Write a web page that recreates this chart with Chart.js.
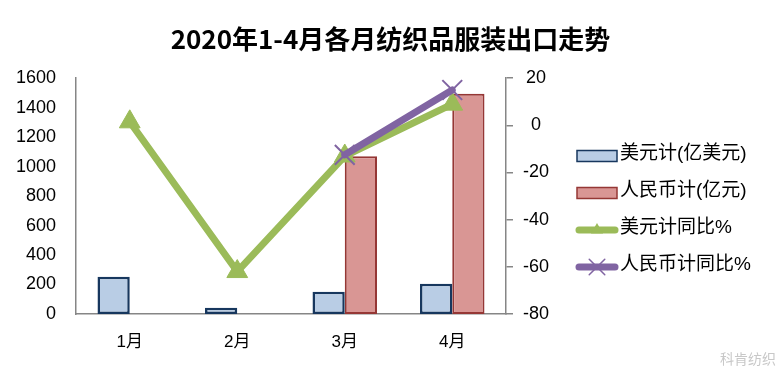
<!DOCTYPE html>
<html><head><meta charset="utf-8">
<script src="https://cdn.jsdelivr.net/npm/chart.js@4.4.1/dist/chart.umd.min.js"></script>
<style>html,body{margin:0;padding:0;background:#fff;}#wrap{width:781px;height:368px;position:relative;}</style>
</head><body><div id="wrap"><canvas id="c" width="781" height="368"></canvas></div>
<script>
const titleText = '2020年1-4月各月纺织品服装出口走势';
const categories = ['1月', '2月', '3月', '4月'];
const usdValues = [253, 43, 151, 205];
const cnyValues = [null, null, 1071, 1494];
const usdYoY = [1.5, -62, -13, 9];
const cnyYoY = [null, null, -12.5, 15];
const leftTicks = [0, 200, 400, 600, 800, 1000, 1200, 1400, 1600];
const rightTicks = [-80, -60, -40, -20, 0, 20];
const seriesNames = ['美元计(亿美元)', '人民币计(亿元)', '美元计同比%', '人民币计同比%'];
const watermark = '科肯纺织';

const CJK = '"Liberation Sans", "Noto Sans CJK SC", sans-serif';

function drawMarker(ctx, style, x, y, r, color, lw) {
  ctx.save();
  if (style === 'triangle') {
    ctx.fillStyle = color;
    ctx.beginPath();
    ctx.moveTo(x, y - r);
    ctx.lineTo(x + r * 0.866, y + r * 0.5);
    ctx.lineTo(x - r * 0.866, y + r * 0.5);
    ctx.closePath();
    ctx.fill();
  } else {
    ctx.strokeStyle = color; ctx.lineWidth = lw;
    const d = r * 0.707;
    ctx.beginPath();
    ctx.moveTo(x - d, y - d); ctx.lineTo(x + d, y + d);
    ctx.moveTo(x + d, y - d); ctx.lineTo(x - d, y + d);
    ctx.stroke();
  }
  ctx.restore();
}

const legendPlugin = {
  id: 'customLegend',
  afterDraw(chart) {
    const ctx = chart.ctx;
    const x0 = 577, x1 = 617, tx = 620;
    const yStart = 156, yStep = 37;
    chart.data.datasets.forEach((ds, i) => {
      const y = yStart + i * yStep;
      ctx.save();
      if (ds.type === 'bar') {
        ctx.fillStyle = ds.backgroundColor;
        ctx.fillRect(x0, y - 5.5, x1 - x0, 11);
        ctx.strokeStyle = ds.borderColor; ctx.lineWidth = 1.5;
        ctx.strokeRect(x0, y - 5.5, x1 - x0, 11);
      } else {
        ctx.strokeStyle = ds.borderColor; ctx.lineWidth = 7; ctx.lineCap = 'round';
        ctx.beginPath(); ctx.moveTo(x0 + 2, y); ctx.lineTo(x1 - 2, y); ctx.stroke();
        if (ds.pointStyle === 'triangle') drawMarker(ctx, 'triangle', (x0 + x1) / 2, y, 7, ds.pointBackgroundColor, 0);
        else drawMarker(ctx, 'crossRot', (x0 + x1) / 2, y, 11, ds.pointBorderColor, 1.5);
      }
      ctx.fillStyle = '#000';
      ctx.font = '19px ' + CJK;
      ctx.textBaseline = 'middle';
      ctx.textAlign = 'left';
      ctx.fillText(ds.label, tx, y - 2);
      ctx.restore();
    });
    ctx.save();
    ctx.fillStyle = '#c8c8c8';
    ctx.font = '14px "Noto Sans CJK SC", sans-serif';
    ctx.textAlign = 'right'; ctx.textBaseline = 'middle';
    ctx.fillText(watermark, 776, 359);
    ctx.restore();
  }
};

new Chart(document.getElementById('c'), {
  type: 'bar',
  data: {
    labels: categories,
    datasets: [
      { type: 'bar', label: seriesNames[0], data: usdValues, yAxisID: 'y', order: 2,
        backgroundColor: '#B9CDE5', borderColor: '#17375E', borderWidth: 2.5, borderSkipped: false,
        categoryPercentage: 0.6, barPercentage: 1.0 },
      { type: 'bar', label: seriesNames[1], data: cnyValues, yAxisID: 'y', order: 2,
        backgroundColor: '#D99694', borderColor: '#953735', borderWidth: 2, borderSkipped: false,
        categoryPercentage: 0.6, barPercentage: 1.0 },
      { type: 'line', label: seriesNames[2], data: usdYoY, yAxisID: 'y1', order: 1,
        borderColor: '#9BBB59', borderWidth: 7, pointStyle: 'triangle', pointRadius: 12,
        pointBackgroundColor: '#9BBB59', pointBorderColor: '#9BBB59', pointBorderWidth: 1,
        spanGaps: false, tension: 0, borderJoinStyle: 'round', borderCapStyle: 'round' },
      { type: 'line', label: seriesNames[3], data: cnyYoY, yAxisID: 'y1', order: 0,
        borderColor: '#8064A2', borderWidth: 7, pointStyle: 'crossRot', pointRadius: 14,
        pointBackgroundColor: '#8064A2', pointBorderColor: '#8064A2', pointBorderWidth: 2,
        tension: 0, borderJoinStyle: 'round', borderCapStyle: 'round' }
    ]
  },
  options: {
    responsive: false, animation: false, devicePixelRatio: 1,
    layout: { padding: 0 },
    plugins: {
      legend: { display: false },
      tooltip: { enabled: false },
      title: { display: true, text: titleText, color: '#000',
        font: { family: '"Noto Sans CJK SC", sans-serif', size: 26, weight: 'bold', lineHeight: 1.2 },
        padding: { top: 24, bottom: 23 } }
    },
    scales: {
      x: {
        grid: { display: false, drawTicks: false },
        border: { display: true, color: '#868686', width: 1.5 },
        ticks: { color: '#000', padding: 18, font: { family: CJK, size: 17 } },
        afterFit(s) { s.height = 54; }
      },
      y: {
        position: 'left', min: leftTicks[0], max: leftTicks[leftTicks.length - 1],
        grid: { display: false, drawTicks: false },
        border: { display: true, color: '#868686', width: 1.5 },
        ticks: { stepSize: leftTicks[1] - leftTicks[0], color: '#000', padding: 20,
          font: { family: CJK, size: 18 }, callback: (v) => String(v) },
        afterFit(s) { s.width = 76; }
      },
      y1: {
        position: 'right', min: rightTicks[0], max: rightTicks[rightTicks.length - 1],
        grid: { display: true, drawOnChartArea: false, drawTicks: true, tickLength: 7, color: '#868686', lineWidth: 1.5 },
        border: { display: true, color: '#868686', width: 1.5 },
        ticks: { stepSize: rightTicks[1] - rightTicks[0], color: '#000', padding: 10, crossAlign: 'center',
          font: { family: CJK, size: 18 }, callback: (v) => String(v) },
        afterFit(s) { s.width = 275; }
      }
    }
  },
  plugins: [legendPlugin]
});
</script></body></html>
